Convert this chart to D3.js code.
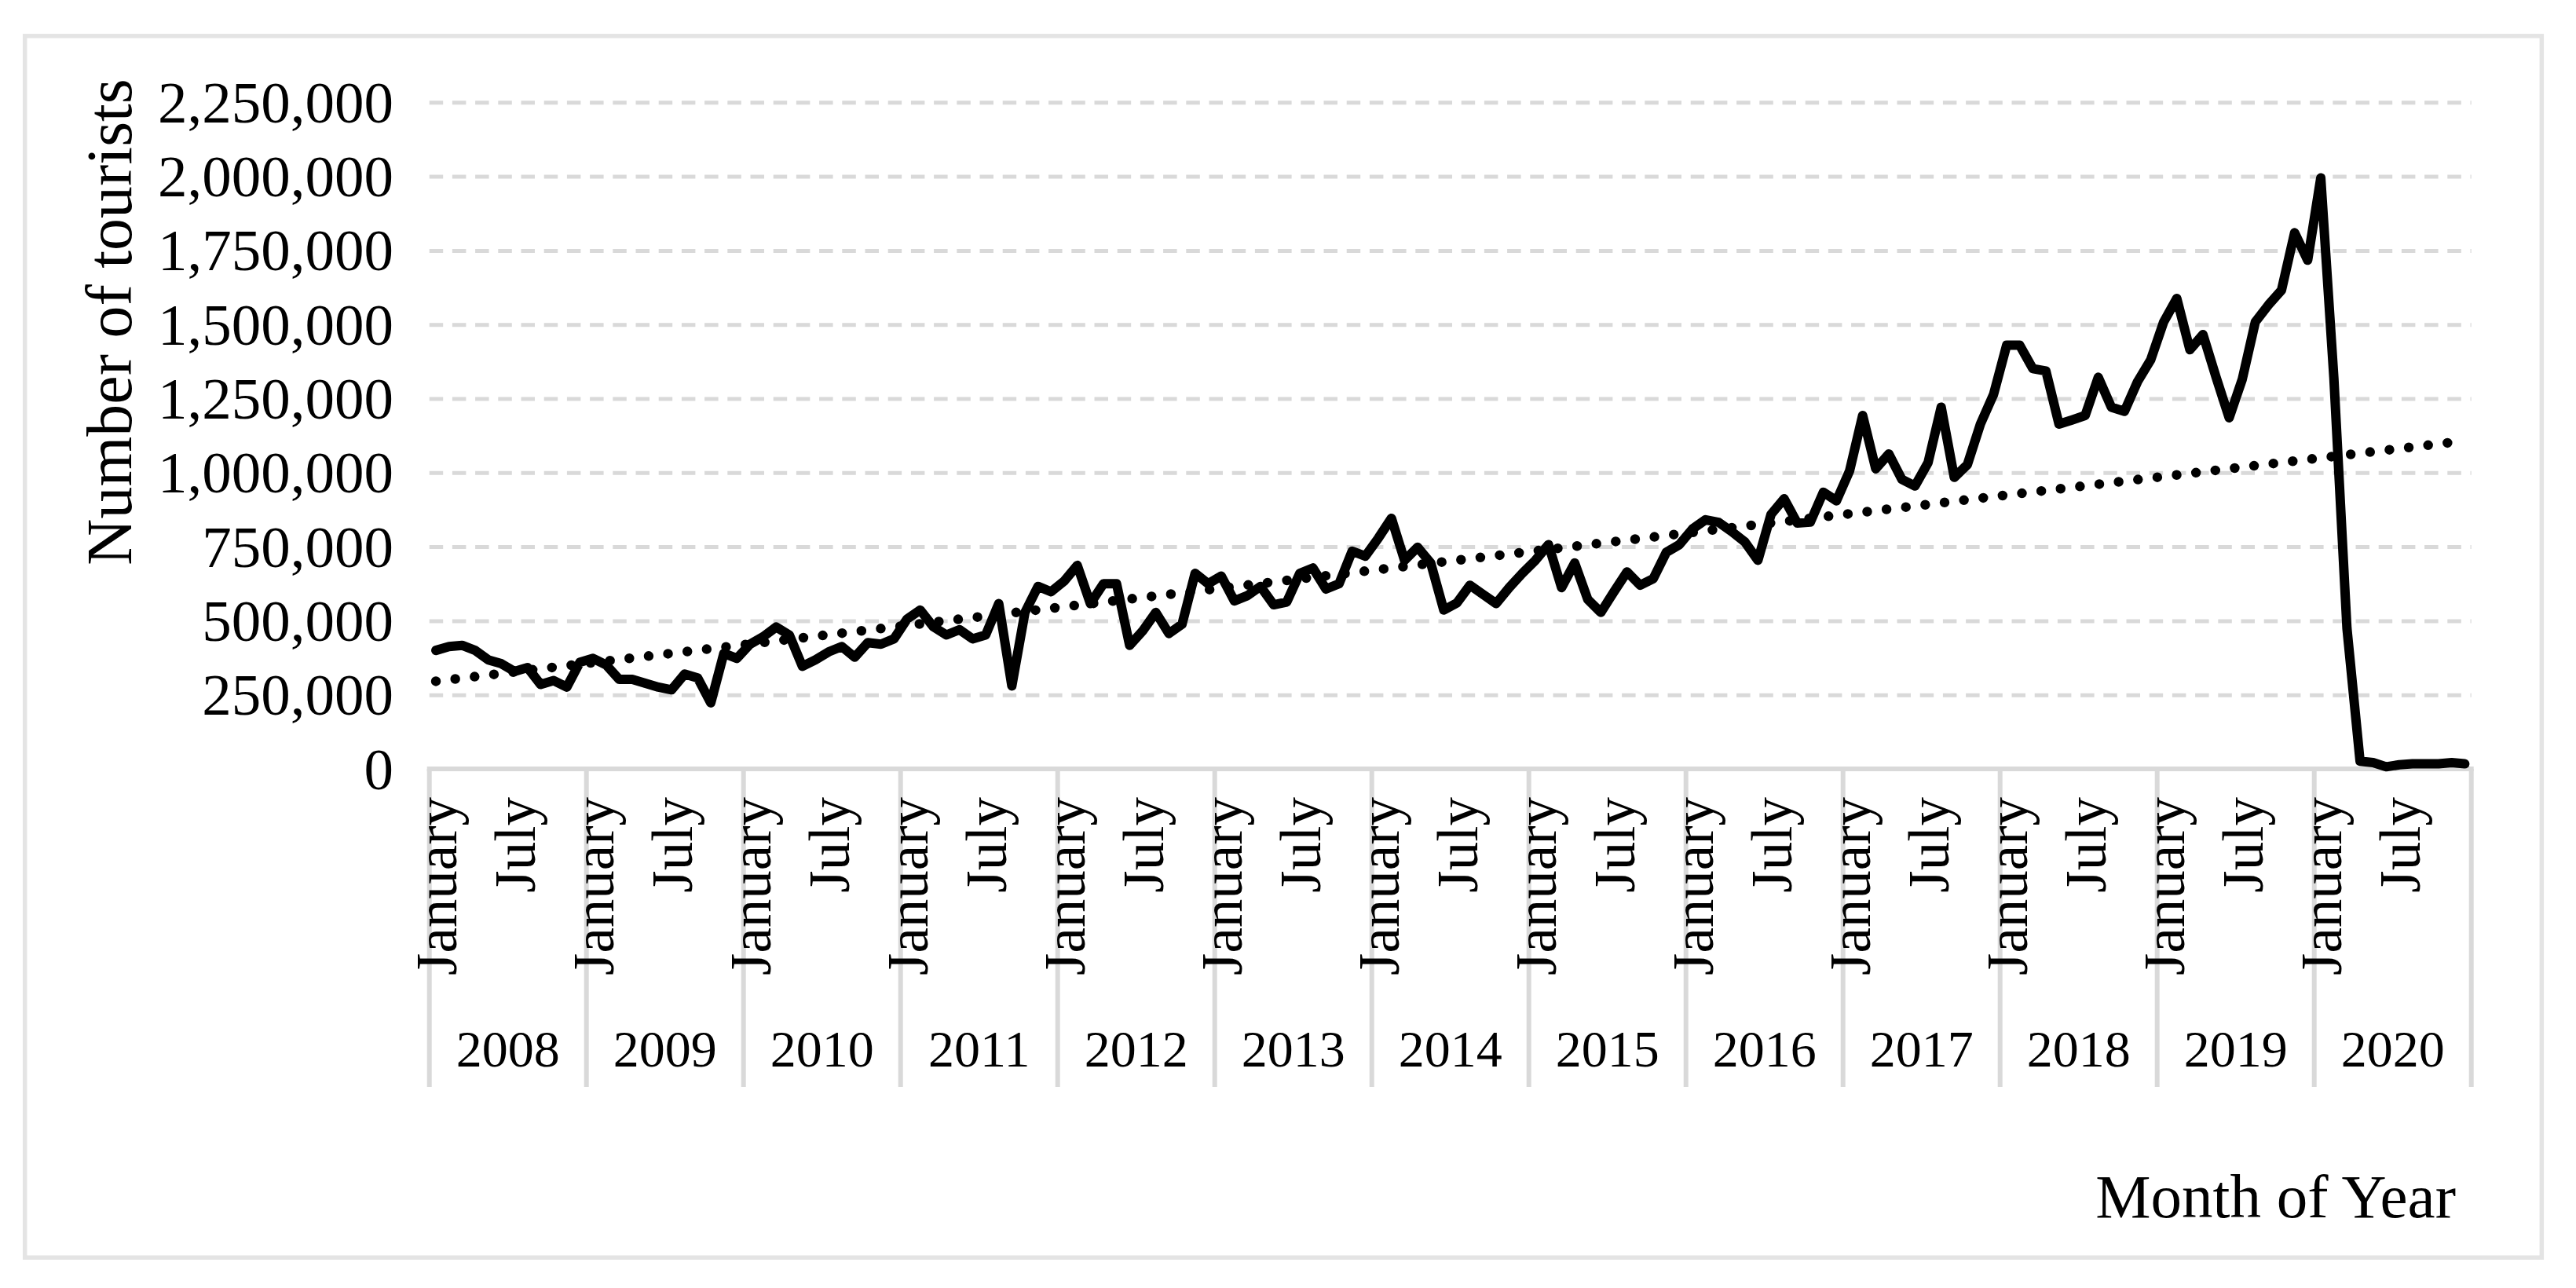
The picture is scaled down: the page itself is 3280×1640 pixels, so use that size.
<!DOCTYPE html>
<html>
<head>
<meta charset="utf-8">
<script src="https://cdn.jsdelivr.net/npm/d3@7"></script>
<style>
  html, body { margin: 0; padding: 0; background: #ffffff; }
  svg { display: block; }
  text { font-family: "Liberation Serif", "Times New Roman", serif; fill: #000; }
</style>
</head>
<body>
<svg id="chart" width="3280" height="1640"></svg>
<script>
// ---------------- DATA ----------------
const years = ["2008","2009","2010","2011","2012","2013","2014","2015","2016","2017","2018","2019","2020"];
const monthNames = ["January","February","March","April","May","June","July","August","September","October","November","December"];
const labeledMonths = ["January","July"];

// Monthly number of tourists, one array per year (Jan..Dec)
const t2008 = [400000, 413000, 417000, 400000, 368000, 355000, 329000, 342000, 285000, 298000, 276000, 360000];
const t2009 = [373000, 351000, 302000, 302000, 289000, 276000, 267000, 320000, 307000, 223000, 390000, 373000];
const t2010 = [421000, 446000, 479000, 452000, 346000, 368000, 395000, 413000, 377000, 426000, 421000, 439000];
const t2011 = [506000, 536000, 480000, 452000, 470000, 439000, 452000, 558000, 280000, 528000, 616000, 598000];
const t2012 = [634000, 687000, 558000, 625000, 625000, 417000, 466000, 528000, 457000, 488000, 660000, 625000];
const t2013 = [651000, 567000, 585000, 616000, 554000, 563000, 660000, 678000, 607000, 625000, 735000, 718000];
const t2014 = [779000, 846000, 704000, 748000, 695000, 536000, 560000, 620000, 589000, 558000, 612000, 660000];
const t2015 = [704000, 757000, 612000, 695000, 572000, 528000, 598000, 665000, 620000, 642000, 731000, 757000];
const t2016 = [810000, 841000, 832000, 801000, 766000, 704000, 859000, 912000, 830000, 833000, 934000, 905000];
const t2017 = [1006000, 1193000, 1013000, 1063000, 977000, 955000, 1034000, 1221000, 984000, 1027000, 1164000, 1264000];
const t2018 = [1430000, 1430000, 1351000, 1343000, 1164000, 1178000, 1193000, 1322000, 1221000, 1207000, 1307000, 1380000];
const t2019 = [1509000, 1588000, 1415000, 1466000, 1322000, 1185000, 1315000, 1509000, 1566000, 1616000, 1810000, 1717000];
const t2020 = [1995000, 1320000, 474000, 26000, 21000, 7000, 14000, 17000, 17000, 17000, 21000, 17000];

const yTicks = [0, 250000, 500000, 750000, 1000000, 1250000, 1500000, 1750000, 2000000, 2250000];
const yTitle = "Number of tourists";
const xTitle = "Month of Year";

// ---------------- BUILD ----------------
const perYear = [t2008,t2009,t2010,t2011,t2012,t2013,t2014,t2015,t2016,t2017,t2018,t2019,t2020];
const series = [];
years.forEach((yr, yi) => {
  perYear[yi].forEach((v, mi) => series.push({key: yr + "-" + mi, year: yr, month: monthNames[mi], idx: yi*12+mi, value: v}));
});

const svg = d3.select("#chart");
const plotL = 546.7, plotR = 3146.7, plotB = 979, plotT = 130.3;

svg.append("rect").attr("x",0).attr("y",0).attr("width",3280).attr("height",1640).attr("fill","#fff");

// outer frame
svg.append("rect")
  .attr("x",31.7).attr("y",45.8).attr("width",3204.6).attr("height",1555.4)
  .attr("fill","none").attr("stroke","#e4e4e4").attr("stroke-width",5.5);

const x = d3.scaleBand().domain(series.map(d => d.key)).range([plotL, plotR]).padding(0);
const xYear = d3.scaleBand().domain(years).range([plotL, plotR]).padding(0);
const y = d3.scaleLinear().domain([0, 2250000]).range([plotB, plotT]);
const cx = d => x(d.key) + x.bandwidth()/2;

// gridlines
const yAxis = d3.axisLeft(y).tickValues(yTicks.filter(t => t > 0))
  .tickSize(-(plotR - plotL)).tickFormat("");
const gGrid = svg.append("g").attr("transform", `translate(${plotL},0)`).call(yAxis);
gGrid.select(".domain").remove();
gGrid.selectAll(".tick line")
  .attr("stroke","#d9d9d9").attr("stroke-width",5).attr("stroke-dasharray","17.5,11.7");

// y tick labels
svg.append("g").selectAll("text").data(yTicks).join("text")
  .attr("x", 501).attr("y", d => y(d)).attr("dy","0.34em")
  .attr("text-anchor","end").attr("font-size",75)
  .text(d => d3.format(",")(d));

// y title
svg.append("text")
  .attr("transform","translate(167,410) rotate(-90)")
  .attr("text-anchor","middle").attr("font-size",82)
  .text(yTitle);

// x axis line
svg.append("line").attr("x1",plotL-3).attr("x2",plotR+3).attr("y1",plotB).attr("y2",plotB)
  .attr("stroke","#d9d9d9").attr("stroke-width",6);

// year separators
const bounds = years.map(yv => xYear(yv)).concat([plotR]);
svg.append("g").selectAll("line").data(bounds).join("line")
  .attr("x1", d => d).attr("x2", d => d).attr("y1", plotB).attr("y2", 1384)
  .attr("stroke","#d9d9d9").attr("stroke-width",6);

// month labels
svg.append("g").selectAll("text")
  .data(series.filter(d => labeledMonths.includes(d.month))).join("text")
  .attr("transform", d => `translate(${cx(d) + 26},1015) rotate(-90)`)
  .attr("text-anchor","end").attr("font-size",73)
  .text(d => d.month);

// year labels
svg.append("g").selectAll("text").data(years).join("text")
  .attr("x", d => xYear(d) + xYear.bandwidth()/2).attr("y", 1358)
  .attr("text-anchor","middle").attr("font-size",66)
  .text(d => d);

// x title
svg.append("text").attr("x",3127).attr("y",1550)
  .attr("text-anchor","end").attr("font-size",79).text(xTitle);

// linear trend (least squares)
const n = series.length;
const mx = d3.mean(series, d => d.idx), my = d3.mean(series, d => d.value);
const slope = d3.sum(series, d => (d.idx-mx)*(d.value-my)) / d3.sum(series, d => (d.idx-mx)**2);
const icpt = my - slope*mx;
const first = series[0], last = series[n-1];
svg.append("path")
  .attr("d", d3.line().x(d => cx(d)).y(d => y(icpt + slope*d.idx))([first, last]))
  .attr("fill","none").attr("stroke","#000").attr("stroke-width",12.5)
  .attr("stroke-linecap","round").attr("stroke-dasharray","0,24.8");

// data line
svg.append("path")
  .attr("d", d3.line().x(d => cx(d)).y(d => y(d.value))(series))
  .attr("fill","none").attr("stroke","#000").attr("stroke-width",12)
  .attr("stroke-linejoin","round").attr("stroke-linecap","round");
</script>
</body>
</html>
